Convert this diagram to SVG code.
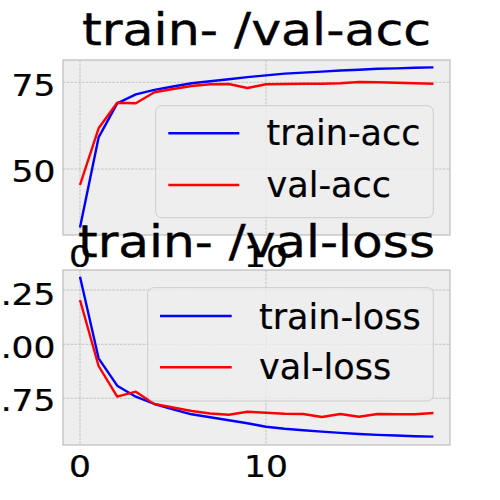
<svg xmlns="http://www.w3.org/2000/svg" width="500" height="500" viewBox="0 0 500 500">
<style>
.ax{fill:#eeeeee;stroke:#bcbcbc;stroke-width:1.2}
.grid{stroke:#b2b2b2;stroke-width:0.7;stroke-dasharray:2.6 1.2;fill:none}
.leg{fill:#eeeeee;fill-opacity:0.8;stroke:#cccccc;stroke-width:1}
.tr{fill:none;stroke:#0000ff;stroke-width:2.4;stroke-linejoin:round}
.va{fill:none;stroke:#ff0000;stroke-width:2.4;stroke-linejoin:round}
text{font-family:"DejaVu Sans",sans-serif;fill:#000;stroke:#000;stroke-width:0.25}
.title{font-size:45px;text-anchor:middle;stroke-width:0.4}
.tick{font-size:30px}
.lt{font-size:35px;stroke-width:0.2}
</style>
<rect width="500" height="500" fill="#ffffff"/>
<g id="axes-acc">
<rect class="ax" x="63" y="60" width="387" height="175"/>
<g class="grid">
<line x1="80" y1="60" x2="80" y2="235"/>
<line x1="266" y1="60" x2="266" y2="235"/>
<line x1="63" y1="82.3" x2="450" y2="82.3"/>
<line x1="63" y1="169" x2="450" y2="169"/>
</g>
</g>
<g id="axes-loss">
<rect class="ax" x="63" y="270" width="387" height="175"/>
<g class="grid">
<line x1="80" y1="270" x2="80" y2="445"/>
<line x1="266" y1="270" x2="266" y2="445"/>
<line x1="63" y1="290" x2="450" y2="290"/>
<line x1="63" y1="344.3" x2="450" y2="344.3"/>
<line x1="63" y1="398.3" x2="450" y2="398.3"/>
</g>
</g>
<g id="connectors">
<polyline id="train-acc-line" class="tr" points="80,227.6 98.6,137.4 117.2,103.4 135.8,94.4 154.4,89.9 173,86.5 191.6,83.3 210.2,81.3 228.8,79.2 247.4,77.1 266,75.4 284.6,73.6 303.2,72.6 321.8,71.6 340.4,70.5 359,69.8 377.6,68.8 396.2,68.4 414.8,67.7 433.4,67.4"/>
<polyline id="val-acc-line" class="va" points="80,185 98.6,128.3 117.2,102.7 135.8,103.3 154.4,92.3 173,89 191.6,86 210.2,84.3 228.8,84 247.4,88 266,84.3 284.6,84 303.2,83.7 321.8,83.7 340.4,83.3 359,82 377.6,82.3 396.2,82.7 414.8,83.3 433.4,83.7"/>
<polyline id="train-loss-line" class="tr" points="80,276.7 98.6,358.3 117.2,385.7 135.8,396.7 154.4,404 173,409.3 191.6,414.3 210.2,417.3 228.8,420.3 247.4,423.3 266,426.7 284.6,428.8 303.2,430.3 321.8,431.6 340.4,432.9 359,434 377.6,434.9 396.2,435.5 414.8,436.2 433.4,436.6"/>
<polyline id="val-loss-line" class="va" points="80,300 98.6,366 117.2,396.7 135.8,391.7 154.4,404 173,407.5 191.6,411 210.2,413.5 228.8,414.7 247.4,411.7 266,412.7 284.6,413.7 303.2,414 321.8,417 340.4,414 359,416.7 377.6,414 396.2,414.3 414.8,414.3 433.4,413"/>
</g>
<g id="legend-acc">
<rect class="leg" x="155.7" y="105.7" width="277.6" height="112" rx="6"/>
<line class="tr" x1="168.3" y1="133.3" x2="239.3" y2="133.3"/>
<line class="va" x1="168.3" y1="185" x2="239.3" y2="185"/>
<text class="lt" x="266.5" y="145">train-acc</text>
<text class="lt" x="266.5" y="196.7">val-acc</text>
</g>
<g id="legend-loss">
<rect class="leg" x="147.7" y="287.7" width="285.6" height="113.3" rx="6"/>
<line class="tr" x1="160" y1="316" x2="231.7" y2="316"/>
<line class="va" x1="160" y1="367.3" x2="231.7" y2="367.3"/>
<text class="lt" x="259" y="329">train-loss</text>
<text class="lt" x="259" y="379">val-loss</text>
</g>
<g id="ticks">
<text class="tick" transform="translate(55.5,95.7) scale(1.15,1)" text-anchor="end">75</text>
<text class="tick" transform="translate(55.5,182.4) scale(1.15,1)" text-anchor="end">50</text>
<text class="tick" transform="translate(80,266.5) scale(1.15,1)" text-anchor="middle">0</text>
<text class="tick" transform="translate(266,266.5) scale(1.15,1)" text-anchor="middle">10</text>
<text class="tick" transform="translate(55.5,304.5) scale(1.15,1)" text-anchor="end">.25</text>
<text class="tick" transform="translate(55.5,358) scale(1.15,1)" text-anchor="end">.00</text>
<text class="tick" transform="translate(55.5,411) scale(1.15,1)" text-anchor="end">.75</text>
<text class="tick" transform="translate(80,476.5) scale(1.15,1)" text-anchor="middle">0</text>
<text class="tick" transform="translate(266,476.5) scale(1.15,1)" text-anchor="middle">10</text>
</g>
<g id="titles">
<text class="title" transform="translate(256.5,44.5) scale(1.125,1)">train- /val-acc</text>
<text class="title" transform="translate(256.5,257.3) scale(1.115,1)">train- /val-loss</text>
</g>
</svg>
